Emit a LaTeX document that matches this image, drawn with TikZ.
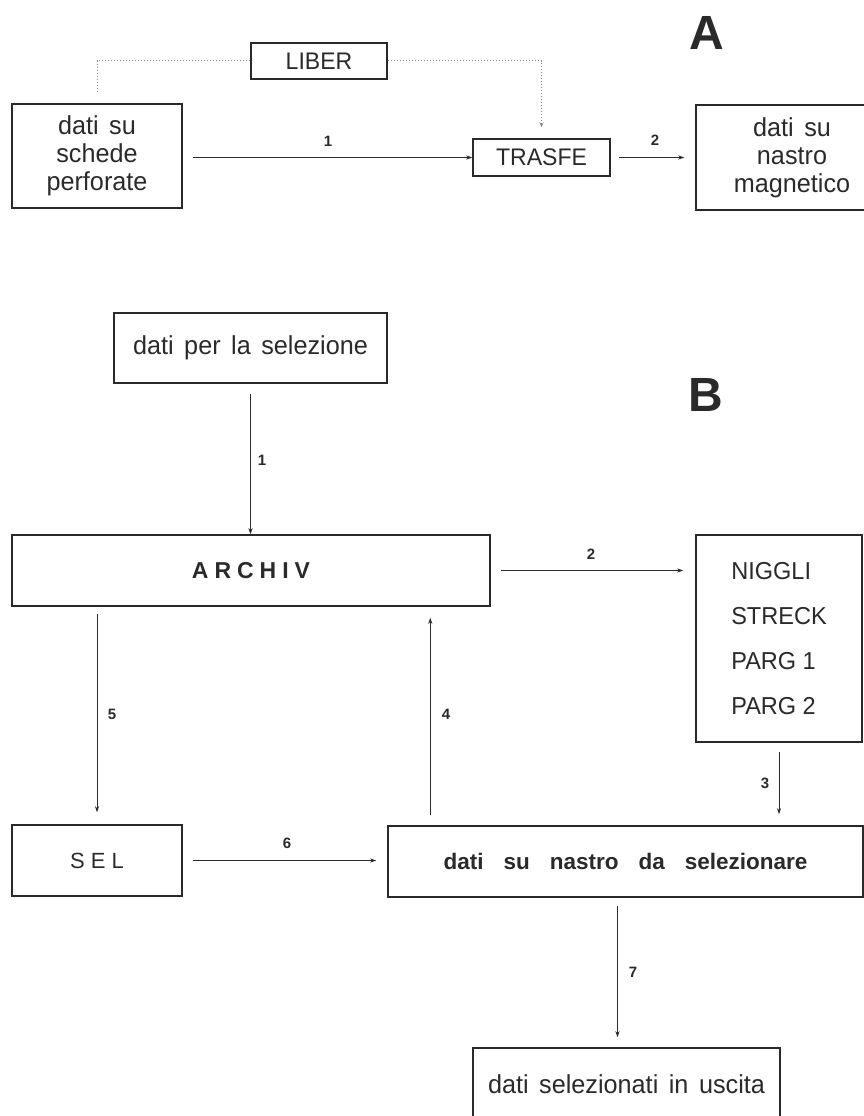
\documentclass[tikz,border=0pt]{standalone}
\usepackage{fontspec}
\setmainfont{Liberation Sans}[WordSpace=1.6]
\newfontfamily\labfont{Liberation Sans}[WordSpace=1.5,FakeStretch=0.97]
\newfontfamily\capfont{Liberation Sans}[FakeStretch=0.96]
\definecolor{ink}{HTML}{2A2A2A}
\definecolor{dotgray}{HTML}{8A8A8A}
\usetikzlibrary{arrows.meta}
\begin{document}
\begin{tikzpicture}[x=1pt,y=-1pt,
  box/.style={draw=ink,line width=1.5pt,inner sep=0pt,align=center,text=ink,font=\labfont\fontsize{26}{28}\selectfont},
  arr/.style={draw=ink,line width=0.9pt,-{Stealth[length=6pt,width=4pt]}},
  dotln/.style={draw=dotgray,line width=1pt,dotted},
  num/.style={text=ink,font=\bfseries\fontsize{15}{15}\selectfont,inner sep=0pt},
  big/.style={text=ink,font=\bfseries\fontsize{48}{48}\selectfont,inner sep=0pt}]
\useasboundingbox (0,0) rectangle (864,1116);
% ---------- A ----------
\node[big] (labA) at (707,33) {A};
\node[box,minimum width=170pt,minimum height=104pt] (schede) at (97,156) {dati su\\schede\\perforate};
\node[box,minimum width=136pt,minimum height=36pt,font=\capfont\fontsize{24}{28}\selectfont] (liber) at (319,61) {LIBER};
\node[box,minimum width=137pt,minimum height=37pt,font=\capfont\fontsize{24}{28}\selectfont] (trasfe) at (541.5,157.5) {TRASFE};
\node[box,minimum width=192pt,minimum height=105pt] (magn) at (792,157.5) {dati su\\nastro\\magnetico};
\coordinate (dotend) at (97,93);
\draw[dotln] (liber.west) -| (dotend);
\draw[dotln,-{Stealth[length=5pt,width=4pt]}] (liber.east) -| ([yshift=11pt]trasfe.north);
\draw[arr] ([xshift=10pt]schede.east |- trasfe.west) -- (trasfe.west);
\draw[arr] ([xshift=8pt]trasfe.east) -- ([xshift=-11pt]magn.west |- trasfe.east);
\node[num] (a1) at (328,141) {1};
\node[num] (a2) at (655,140) {2};
% ---------- B ----------
\node[big] (labB) at (706,395) {B};
\node[box,minimum width=273pt,minimum height=70pt] (datisel) at (250.5,348) {dati per la selezione};
\node[box,minimum width=478pt,minimum height=71pt,font=\bfseries\fontsize{23}{28}\selectfont] (archiv) at (251,570.5) {A\kern6pt R\kern6pt C\kern6pt H\kern6pt I\kern6pt V};
\node[box,minimum width=166pt,minimum height=207pt,align=left,font=\capfont\fontsize{24.5}{28}\selectfont] (niggli) at (779,638.5)
  {NIGGLI\\[17pt]STRECK\\[17pt]PARG 1\\[17pt]PARG 2};
\node[box,minimum width=170pt,minimum height=71pt,font=\fontsize{22}{26}\selectfont] (sel) at (97,860.5) {S\kern6pt E\kern6pt L};
\node[box,minimum width=475pt,minimum height=71pt,font=\bfseries\fontsize{22.5}{26}\selectfont] (nastro) at (625.5,861.5) {dati\ \ su\ \ nastro\ \ da\ \ selezionare};
\node[box,minimum width=307pt,minimum height=72pt] (out) at (626.5,1084) {dati selezionati in uscita};
% connectors
\draw[arr,shorten <=10pt] (datisel.south) -- (datisel.south |- archiv.north);
\draw[arr,shorten <=10pt,shorten >=12pt] (archiv.east) -- (niggli.west |- archiv.east);
\draw[arr,shorten <=9pt,shorten >=11pt] (niggli.south) -- (niggli.south |- nastro.north);
\draw[arr,shorten <=10pt,shorten >=11pt] ([xshift=43pt]nastro.north west) -- ([xshift=43pt]nastro.north west |- archiv.south);
\draw[arr,shorten <=7pt,shorten >=12pt] (sel.north |- archiv.south) -- (sel.north);
\draw[arr,shorten <=10pt,shorten >=11pt] (sel.east) -- (nastro.west |- sel.east);
\draw[arr,shorten <=8pt,shorten >=10pt] ([xshift=-8pt]nastro.south) -- ([xshift=-8pt]nastro.south |- out.north);
\node[num] (b1) at (262,460) {1};
\node[num] (b2) at (591,554) {2};
\node[num] (b3) at (765,783) {3};
\node[num] (b4) at (446,714) {4};
\node[num] (b5) at (112,714) {5};
\node[num] (b6) at (287,843) {6};
\node[num] (b7) at (633,972) {7};
\end{tikzpicture}
\end{document}
